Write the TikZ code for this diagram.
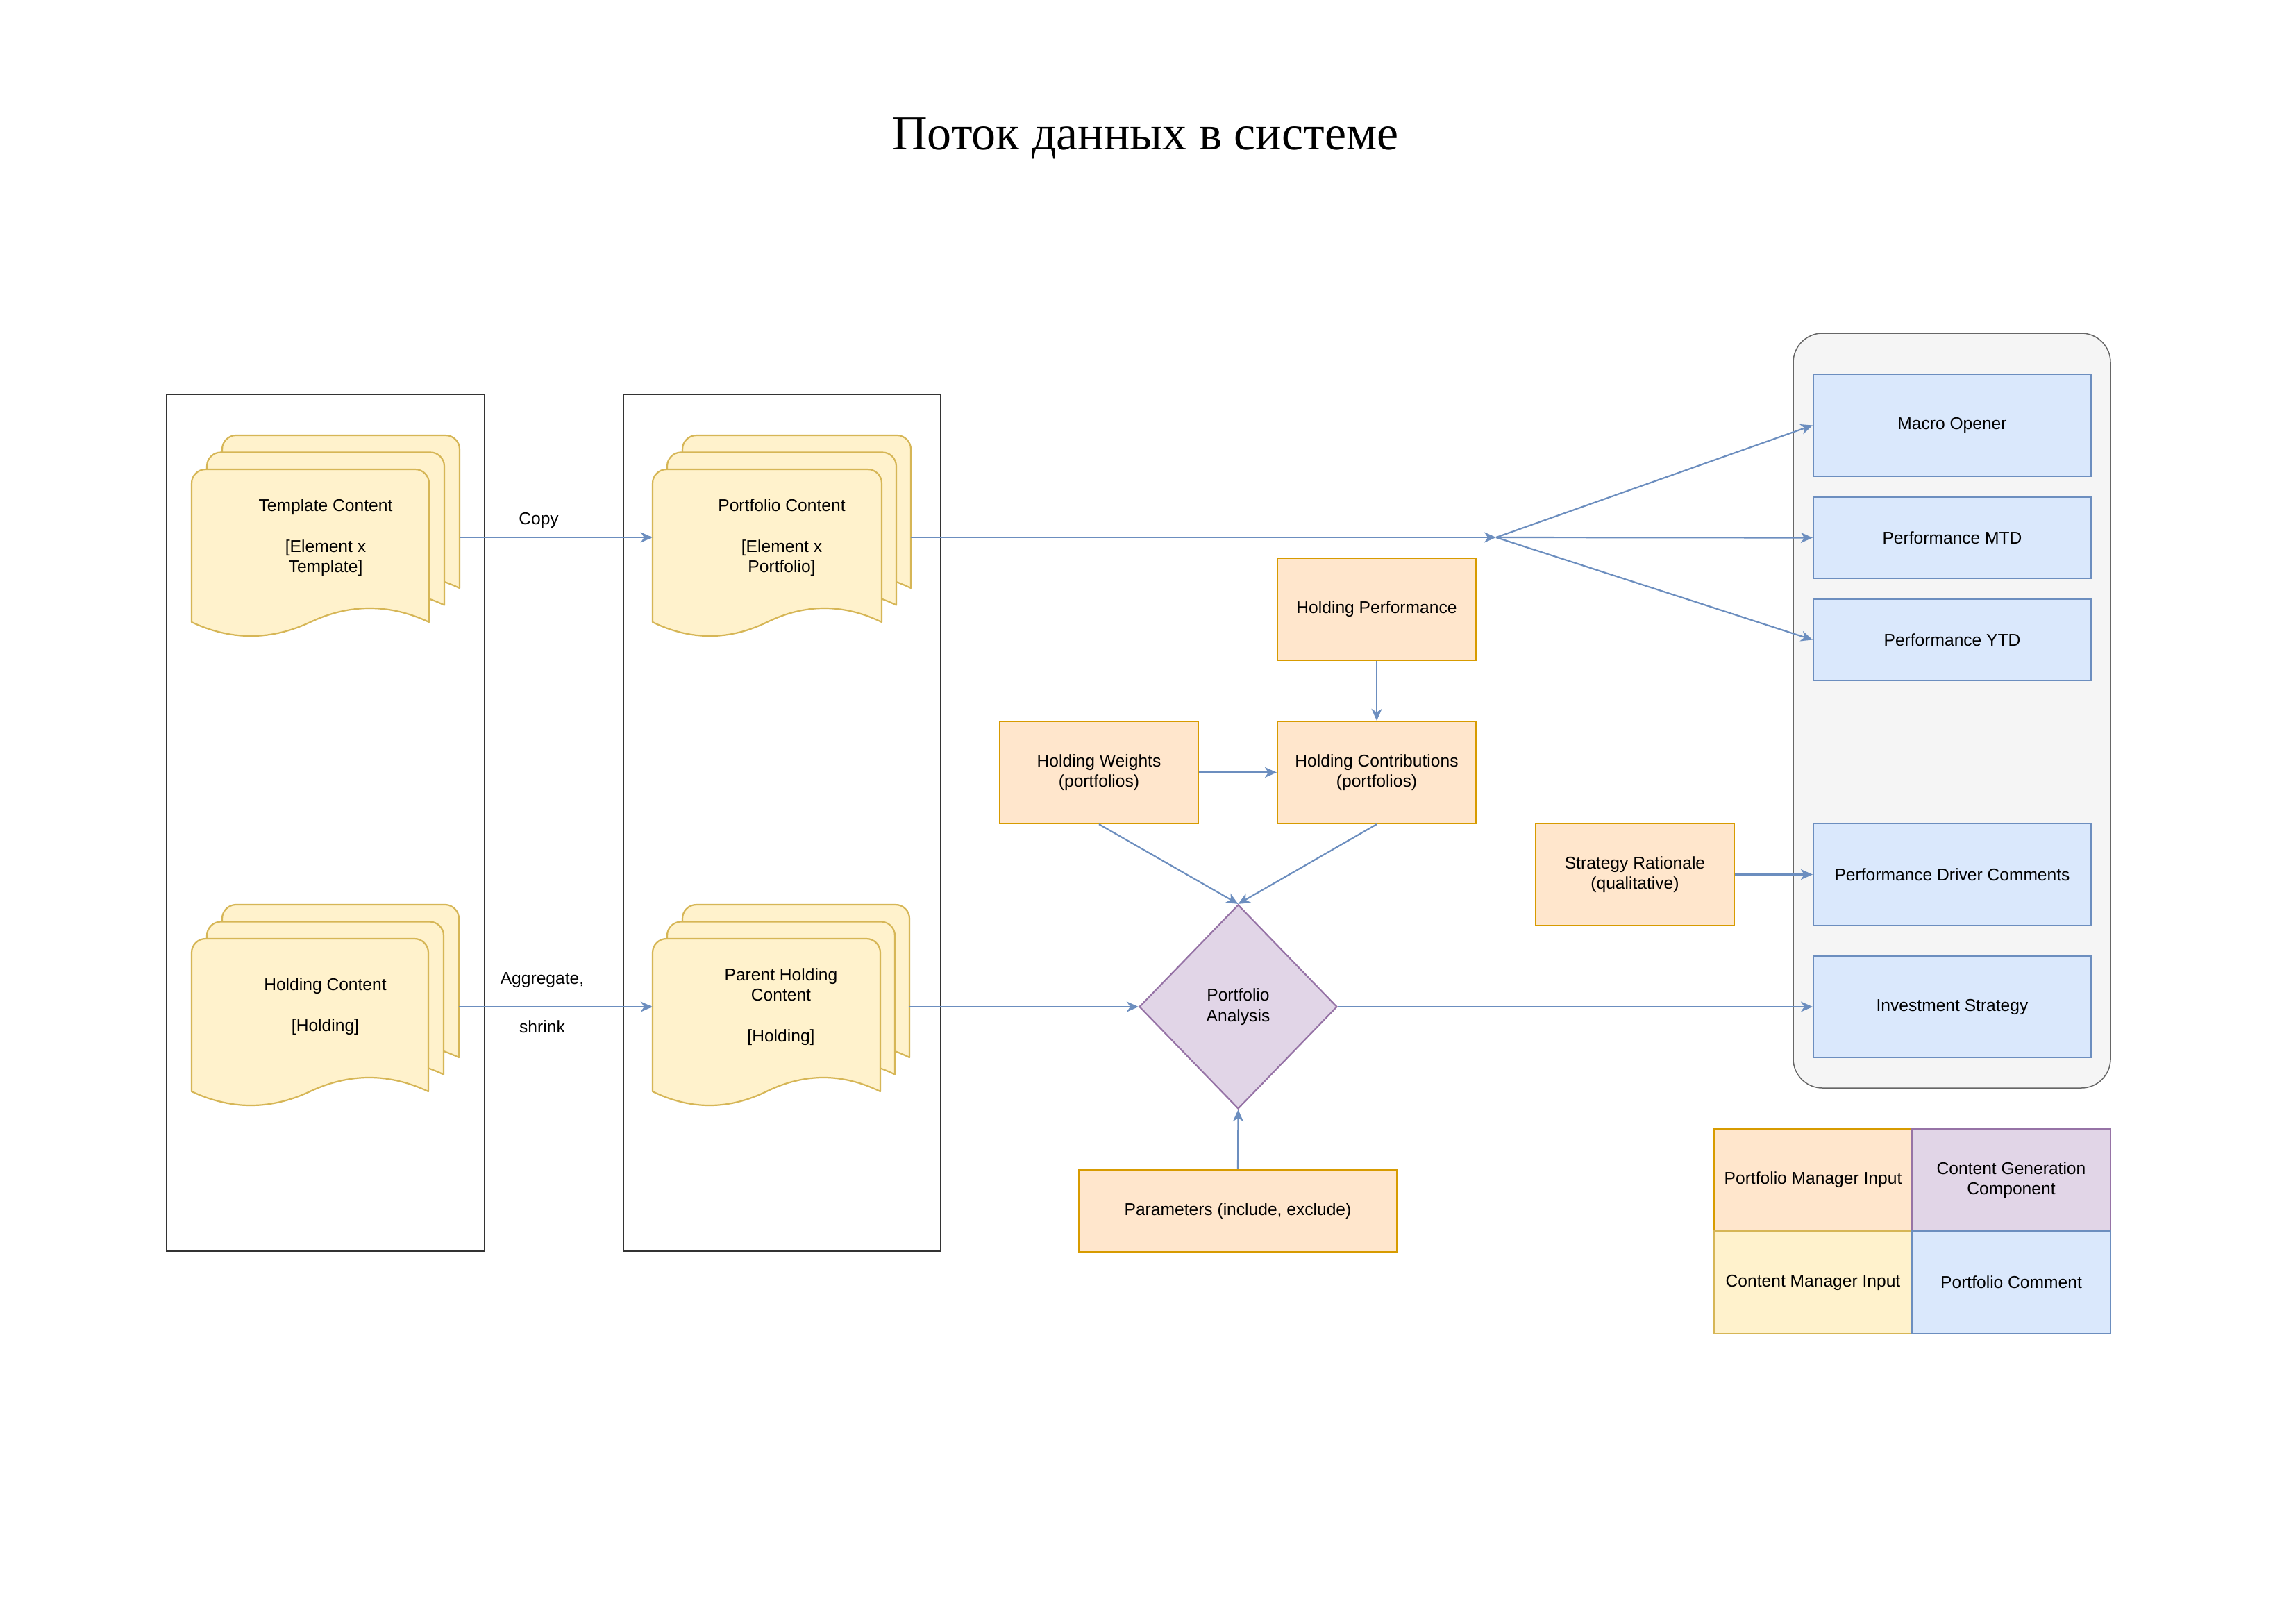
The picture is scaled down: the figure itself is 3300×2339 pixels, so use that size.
\documentclass[tikz,border=0pt]{standalone}
\usepackage{fontspec}
\setmainfont{Liberation Sans}
\newfontfamily\titlefont{Liberation Serif}
\usetikzlibrary{arrows.meta,shapes.geometric}

\definecolor{orfill}{HTML}{FFE6CC}\definecolor{ordraw}{HTML}{D79B00}
\definecolor{yefill}{HTML}{FFF2CC}\definecolor{yedraw}{HTML}{D6B656}
\definecolor{blfill}{HTML}{DAE8FC}\definecolor{bldraw}{HTML}{6C8EBF}
\definecolor{pufill}{HTML}{E1D5E7}\definecolor{pudraw}{HTML}{9673A6}
\definecolor{grfill}{HTML}{F5F5F5}\definecolor{grdraw}{HTML}{666666}

\tikzset{
  txt/.style={font=\fontsize{24.6}{29.5}\selectfont, align=center},
  shapebox/.style={txt, rectangle, draw, line width=2.2pt, inner sep=0pt},
  pmbox/.style={shapebox, fill=orfill, draw=ordraw},
  cmbox/.style={shapebox, fill=yefill, draw=yedraw},
  ccbox/.style={shapebox, fill=blfill, draw=bldraw},
  cgbox/.style={shapebox, fill=pufill, draw=pudraw},
  decision/.style={txt, diamond, draw=pudraw, fill=pufill, line width=2.2pt, inner sep=0pt},
  group/.style={rectangle, draw=grdraw, fill=grfill, line width=1.5pt, rounded corners=42pt, inner sep=0pt},
  lane/.style={rectangle, draw=black!80, line width=1.1pt, inner sep=0pt},
  docarea/.style={txt, rectangle, inner sep=0pt},
  page/.style={fill=yefill, draw=yedraw, line width=2.2pt, line join=round},
  conn/.style={draw=bldraw, line width=2.2pt, -{Stealth[length=17pt,width=15pt,inset=5pt]}},
  elabel/.style={txt, inner sep=0pt},
}

% one page of a document stack: left x, top y, right x, y at which the wavy bottom meets the sides
\newcommand{\docpage}[4]{%
  \pgfmathsetmacro{\dpxa}{#1}\pgfmathsetmacro{\dpya}{#2}%
  \pgfmathsetmacro{\dpxb}{#3}\pgfmathsetmacro{\dpyb}{#4}%
  \pgfmathsetmacro{\dpxm}{(\dpxa+\dpxb)/2}\pgfmathsetmacro{\dpw}{(\dpxb-\dpxa)/6}%
  \filldraw[page] (\dpxa,\dpyb) -- (\dpxa,\dpya+20)
    .. controls (\dpxa,\dpya+9) and (\dpxa+9,\dpya) .. (\dpxa+20,\dpya)
    -- (\dpxb-20,\dpya)
    .. controls (\dpxb-9,\dpya) and (\dpxb,\dpya+9) .. (\dpxb,\dpya+20)
    -- (\dpxb,\dpyb)
    .. controls (\dpxb-\dpw,\dpyb-26.7) and (\dpxm+\dpw,\dpyb-26.7) .. (\dpxm,\dpyb)
    .. controls (\dpxm-\dpw,\dpyb+26.7) and (\dpxa+\dpw,\dpyb+26.7) .. (\dpxa,\dpyb)
    -- cycle;}

\begin{document}
\begin{tikzpicture}[x=1pt,y=-1pt]
\useasboundingbox (0,0) rectangle (3300,2339);
\fill[white] (0,0) rectangle (3300,2339);

% title
\node[font=\titlefont\fontsize{70}{84}\selectfont, anchor=base, inner sep=0pt] (title) at (1650,215) {Поток данных в системе};

% lanes
\node[lane, minimum width=458pt, minimum height=1234pt] (lane1) at (469,1185) {};
\node[lane, minimum width=457pt, minimum height=1234pt] (lane2) at (1126.5,1185) {};

% output group
\node[group, minimum width=457pt, minimum height=1087pt] (outgroup) at (2811.5,1023.5) {};

% document stacks
\docpage{320}{627}{662}{847}\docpage{298}{651.5}{640}{871.5}\docpage{276}{676}{618}{896}
\docpage{983}{627}{1312}{847}\docpage{961}{651.5}{1291}{871.5}\docpage{940}{676}{1270}{896}
\docpage{320}{1303}{661}{1523}\docpage{298}{1327.5}{639}{1547.5}\docpage{276}{1352}{617}{1572}
\docpage{983}{1303}{1310}{1523}\docpage{961}{1327.5}{1289}{1547.5}\docpage{940}{1352}{1268}{1572}

\node[docarea, minimum width=386pt, minimum height=294pt] (tc) at (469,774)
  {Template Content\\ ~\\ {[}Element x\\ Template{]}};
\node[docarea, minimum width=372pt, minimum height=294pt] (pc) at (1126,774)
  {Portfolio Content\\ ~\\ {[}Element x\\ Portfolio{]}};
\node[docarea, minimum width=385pt, minimum height=294pt] (hc) at (468.5,1450)
  {Holding Content\\ ~\\ {[}Holding{]}};
\node[docarea, minimum width=370pt, minimum height=294pt] (phc) at (1125,1450)
  {Parent Holding\\ Content\\ ~\\ {[}Holding{]}};

% inputs
\node[pmbox, minimum width=286pt, minimum height=147pt] (hp) at (1983,877.5) {Holding Performance};
\node[pmbox, minimum width=286pt, minimum height=147pt] (hw) at (1583,1112.5) {Holding Weights\\(portfolios)};
\node[pmbox, minimum width=286pt, minimum height=147pt] (hcon) at (1983,1112.5) {Holding Contributions\\(portfolios)};
\node[pmbox, minimum width=286pt, minimum height=147pt] (sr) at (2355,1259.5) {Strategy Rationale\\(qualitative)};
\node[pmbox, minimum width=458pt, minimum height=118pt] (par) at (1783,1744) {Parameters (include, exclude)};

% analysis
\node[decision, minimum width=285pt, minimum height=294pt] (pa) at (1783.5,1450) {Portfolio\\Analysis};

% outputs
\node[ccbox, minimum width=400pt, minimum height=147pt] (macro) at (2812,612.5) {Macro Opener};
\node[ccbox, minimum width=400pt, minimum height=117pt] (mtd) at (2812,774.5) {Performance MTD};
\node[ccbox, minimum width=400pt, minimum height=117pt] (ytd) at (2812,921.5) {Performance YTD};
\node[ccbox, minimum width=400pt, minimum height=147pt] (pdc) at (2812,1259.5) {Performance Driver Comments};
\node[ccbox, minimum width=400pt, minimum height=146pt] (ist) at (2812,1450) {Investment Strategy};

% legend
\node[pmbox, minimum width=285.5pt, minimum height=147.5pt] (lgpm) at (2611.5,1699.5) {Portfolio Manager Input};
\node[cgbox, minimum width=285.5pt, minimum height=147.5pt] (lgcg) at (2897,1699.5) {Content Generation\\Component};
\node[cmbox, minimum width=285.5pt, minimum height=147.5pt] (lgcm) at (2611.5,1847) {Content Manager Input};
\node[ccbox, minimum width=285.5pt, minimum height=147.5pt] (lgpc) at (2897,1847) {Portfolio Comment};

% connectors
\coordinate (split) at (2155,774);
\draw[conn] (tc.east) -- node[elabel, pos=0.41, yshift=25pt] {Copy} (pc.west);
\draw[conn] (hc.east) -- node[elabel, pos=0.43, yshift=6pt] {Aggregate,\\[40.5pt]shrink} (phc.west);
\draw[conn] (pc.east) -- (split);
\draw[conn] (split) -- (macro.west);
\draw[conn] (split) -- (mtd.west);
\draw[conn] (split) -- (ytd.west);
\draw[conn] (hp.south) -- (hcon.north);
\draw[conn] (hw.east) -- (hcon.west);
\draw[conn] (hw.south) -- (pa.north);
\draw[conn] (hcon.south) -- (pa.north);
\draw[conn] (phc.east) -- (pa.west);
\draw[conn] (par.north) -- (pa.south);
\draw[conn] (pa.east) -- (ist.west);
\draw[conn] (sr.east) -- (pdc.west);
\end{tikzpicture}
\end{document}
